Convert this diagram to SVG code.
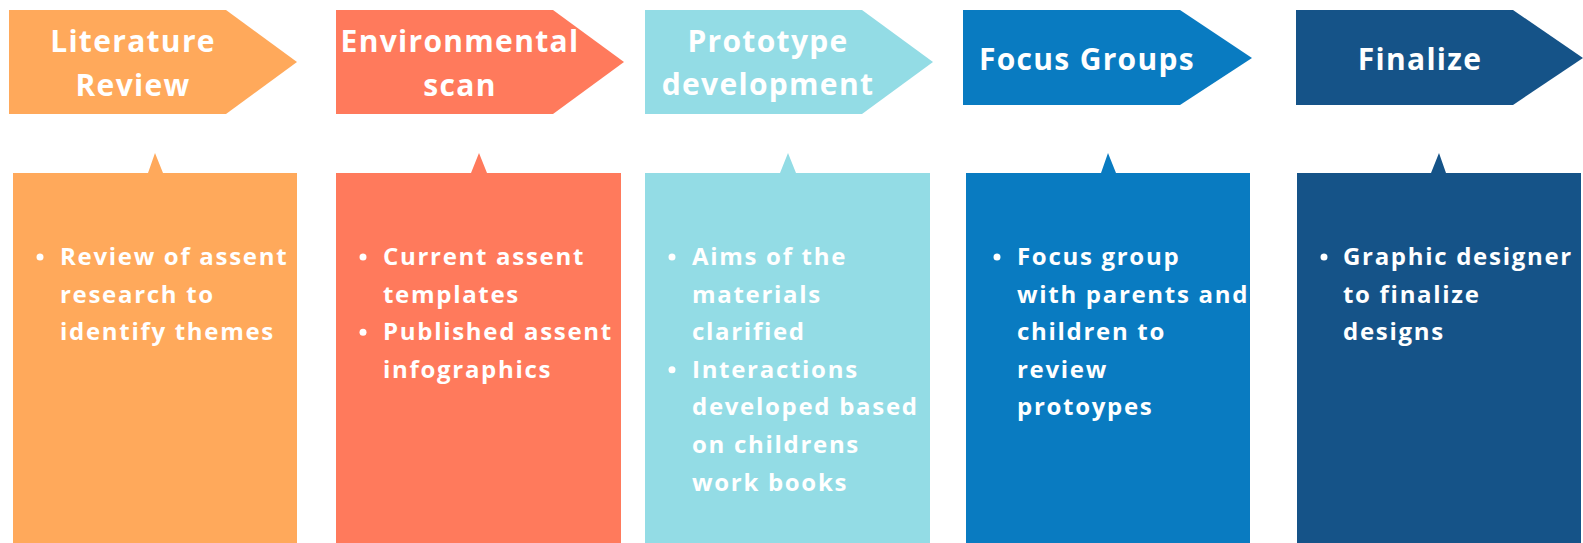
<svg xmlns="http://www.w3.org/2000/svg" width="1583" height="543" viewBox="0 0 1583 543">
<style>
.title{font-family:"Open Sans","Liberation Sans",sans-serif;font-weight:700;font-size:30px;fill:#fff;text-anchor:middle;letter-spacing:1.3px}
.body{font-family:"Open Sans","Liberation Sans",sans-serif;font-weight:700;font-size:24px;fill:#fff;letter-spacing:1.7px}
.dot{fill:#fff}
.c1{fill:#FFA95B}.c2{fill:#FF7A5C}.c3{fill:#93DCE5}.c4{fill:#097BC1}.c5{fill:#155388}
</style>
<rect width="1583" height="543" fill="#fff"/>
<g id="connectors"/>
<g id="step1">
<polygon class="c1" points="9,10 226,10 297,62 226,114 9,114"/>
<text class="title" x="133" y="52">Literature</text>
<text class="title" x="133" y="96">Review</text>
</g>
<g id="detail1">
<path class="c1" d="M13,173 H148 L155,153 L163,173 H297 V543 H13 Z"/>
<circle class="dot" cx="40" cy="257" r="3.5"/>
<text class="body" x="60" y="265">Review of assent</text>
<text class="body" x="60" y="302.6">research to</text>
<text class="body" x="60" y="340.2">identify themes</text>
</g>
<g id="step2">
<polygon class="c2" points="336,10 553,10 624,62 553,114 336,114"/>
<text class="title" x="460" y="52">Environmental</text>
<text class="title" x="460" y="96">scan</text>
</g>
<g id="detail2">
<path class="c2" d="M336,173 H471 L479,153 L487,173 H621 V543 H336 Z"/>
<circle class="dot" cx="363" cy="257" r="3.5"/>
<text class="body" x="383" y="265">Current assent</text>
<text class="body" x="383" y="302.6">templates</text>
<circle class="dot" cx="363" cy="332.2" r="3.5"/>
<text class="body" x="383" y="340.2">Published assent</text>
<text class="body" x="383" y="377.8">infographics</text>
</g>
<g id="step3">
<polygon class="c3" points="645,10 862,10 933,62 862,114 645,114"/>
<text class="title" x="768" y="52">Prototype</text>
<text class="title" x="768" y="95">development</text>
</g>
<g id="detail3">
<path class="c3" d="M645,173 H780 L788,153 L796,173 H930 V543 H645 Z"/>
<circle class="dot" cx="672" cy="257" r="3.5"/>
<text class="body" x="692" y="265">Aims of the</text>
<text class="body" x="692" y="302.6">materials</text>
<text class="body" x="692" y="340.2">clarified</text>
<circle class="dot" cx="672" cy="369.8" r="3.5"/>
<text class="body" x="692" y="377.8">Interactions</text>
<text class="body" x="692" y="415.4">developed based</text>
<text class="body" x="692" y="453">on childrens</text>
<text class="body" x="692" y="490.6">work books</text>
</g>
<g id="step4">
<polygon class="c4" points="963,10 1180,10 1252,58 1180,105 963,105"/>
<text class="title" x="1087" y="70">Focus Groups</text>
</g>
<g id="detail4">
<path class="c4" d="M966,173 H1101 L1108,153 L1116,173 H1250 V543 H966 Z"/>
<circle class="dot" cx="997" cy="257" r="3.5"/>
<text class="body" x="1017" y="265">Focus group</text>
<text class="body" x="1017" y="302.6">with parents and</text>
<text class="body" x="1017" y="340.2">children to</text>
<text class="body" x="1017" y="377.8">review</text>
<text class="body" x="1017" y="415.4">protoypes</text>
</g>
<g id="step5">
<polygon class="c5" points="1296,10 1513,10 1583,58 1513,105 1296,105"/>
<text class="title" x="1420" y="70">Finalize</text>
</g>
<g id="detail5">
<path class="c5" d="M1297,173 H1431 L1439,153 L1446,173 H1581 V543 H1297 Z"/>
<circle class="dot" cx="1324" cy="257" r="3.5"/>
<text class="body" x="1343" y="265">Graphic designer</text>
<text class="body" x="1343" y="302.6">to finalize</text>
<text class="body" x="1343" y="340.2">designs</text>
</g>
</svg>
